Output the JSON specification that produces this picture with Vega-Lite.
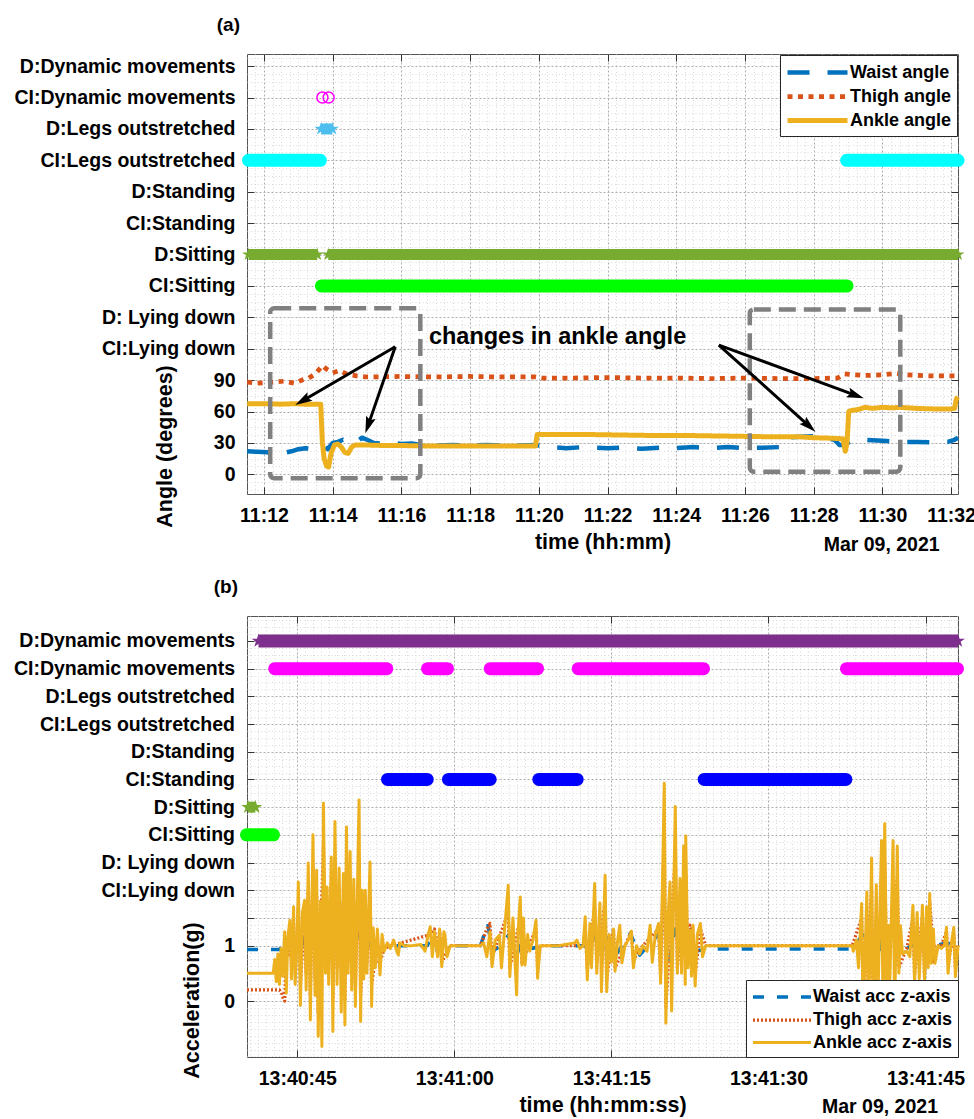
{
"$schema": "https://vega.github.io/schema/vega-lite/v6.json",
"padding": {"left": 12, "top": 15, "right": 0, "bottom": 0},
"spacing": 22,
"config": {
 "font": "Liberation Sans",
 "view": {"stroke": "#555555", "strokeWidth": 1},
 "axis": {"labelFont": "Liberation Sans", "labelFontWeight": "bold", "labelFontSize": 19.5, "labelColor": "#000000", "titleFont": "Liberation Sans", "titleFontWeight": "bold", "titleFontSize": 21.5, "titleColor": "#000000", "tickColor": "#333333", "tickWidth": 1, "domain": false, "labelOverlap": false, "labelFlush": false, "labelLimit": 400},
 "legend": {"labelFont": "Liberation Sans", "labelFontWeight": "bold", "labelFontSize": 18, "labelColor": "#000000"}
},
"datasets": {
 "angA": [
  {"t":11.51,"s":"Waist angle","v":22},{"t":11.8,"s":"Waist angle","v":21.5},{"t":12.1,"s":"Waist angle","v":21},{"t":12.3,"s":"Waist angle","v":19.5},{"t":12.5,"s":"Waist angle","v":20},{"t":12.8,"s":"Waist angle","v":22},{"t":13.0,"s":"Waist angle","v":24},{"t":13.2,"s":"Waist angle","v":25},{"t":13.45,"s":"Waist angle","v":24},{"t":13.6,"s":"Waist angle","v":25},{"t":13.75,"s":"Waist angle","v":27},{"t":13.85,"s":"Waist angle","v":24},{"t":14.0,"s":"Waist angle","v":30},{"t":14.15,"s":"Waist angle","v":31},{"t":14.3,"s":"Waist angle","v":33},{"t":14.5,"s":"Waist angle","v":30},{"t":14.7,"s":"Waist angle","v":31},{"t":14.85,"s":"Waist angle","v":35},{"t":15.0,"s":"Waist angle","v":33},{"t":15.2,"s":"Waist angle","v":30},{"t":15.5,"s":"Waist angle","v":29},{"t":15.8,"s":"Waist angle","v":30},{"t":16.0,"s":"Waist angle","v":29},{"t":16.3,"s":"Waist angle","v":29.5},{"t":16.6,"s":"Waist angle","v":28},{"t":17.0,"s":"Waist angle","v":27.5},{"t":17.5,"s":"Waist angle","v":28},{"t":18.0,"s":"Waist angle","v":27.5},{"t":18.5,"s":"Waist angle","v":28},{"t":19.0,"s":"Waist angle","v":27.5},{"t":19.5,"s":"Waist angle","v":27.5},{"t":19.9,"s":"Waist angle","v":28},{"t":20.1,"s":"Waist angle","v":27},{"t":20.3,"s":"Waist angle","v":26},{"t":20.8,"s":"Waist angle","v":25},{"t":21.3,"s":"Waist angle","v":26},{"t":22.0,"s":"Waist angle","v":25},{"t":22.5,"s":"Waist angle","v":25.5},{"t":23.0,"s":"Waist angle","v":24.5},{"t":23.5,"s":"Waist angle","v":25.5},{"t":24.0,"s":"Waist angle","v":25},{"t":24.5,"s":"Waist angle","v":26},{"t":25.0,"s":"Waist angle","v":25},{"t":25.5,"s":"Waist angle","v":26},{"t":26.0,"s":"Waist angle","v":25},{"t":26.5,"s":"Waist angle","v":25.5},{"t":27.0,"s":"Waist angle","v":26},{"t":27.1,"s":"Waist angle","v":27},{"t":27.2,"s":"Waist angle","v":35},{"t":27.6,"s":"Waist angle","v":36},{"t":28.0,"s":"Waist angle","v":36.5},{"t":28.3,"s":"Waist angle","v":35},{"t":28.6,"s":"Waist angle","v":33},{"t":28.75,"s":"Waist angle","v":28},{"t":28.9,"s":"Waist angle","v":28},{"t":29.1,"s":"Waist angle","v":32},{"t":29.5,"s":"Waist angle","v":33},{"t":30.0,"s":"Waist angle","v":32},{"t":30.5,"s":"Waist angle","v":31},{"t":31.0,"s":"Waist angle","v":31},{"t":31.5,"s":"Waist angle","v":30.5},{"t":31.9,"s":"Waist angle","v":31},{"t":32.1,"s":"Waist angle","v":33},{"t":32.2,"s":"Waist angle","v":35},
  {"t":11.51,"s":"Thigh angle","v":88},{"t":11.8,"s":"Thigh angle","v":87},{"t":12.2,"s":"Thigh angle","v":88},{"t":12.6,"s":"Thigh angle","v":89},{"t":12.9,"s":"Thigh angle","v":87},{"t":13.1,"s":"Thigh angle","v":90},{"t":13.3,"s":"Thigh angle","v":92},{"t":13.5,"s":"Thigh angle","v":96},{"t":13.7,"s":"Thigh angle","v":104},{"t":13.8,"s":"Thigh angle","v":101},{"t":14.0,"s":"Thigh angle","v":97},{"t":14.2,"s":"Thigh angle","v":99},{"t":14.4,"s":"Thigh angle","v":96},{"t":14.7,"s":"Thigh angle","v":94},{"t":15.0,"s":"Thigh angle","v":93},{"t":16.0,"s":"Thigh angle","v":93.5},{"t":17.0,"s":"Thigh angle","v":93},{"t":18.0,"s":"Thigh angle","v":93.5},{"t":19.0,"s":"Thigh angle","v":93},{"t":19.9,"s":"Thigh angle","v":93},{"t":20.1,"s":"Thigh angle","v":92},{"t":21.0,"s":"Thigh angle","v":92},{"t":22.0,"s":"Thigh angle","v":92.5},{"t":23.0,"s":"Thigh angle","v":92},{"t":24.0,"s":"Thigh angle","v":92},{"t":25.0,"s":"Thigh angle","v":91.5},{"t":26.0,"s":"Thigh angle","v":92},{"t":27.0,"s":"Thigh angle","v":91.5},{"t":28.0,"s":"Thigh angle","v":91.5},{"t":28.7,"s":"Thigh angle","v":92},{"t":28.9,"s":"Thigh angle","v":96},{"t":29.2,"s":"Thigh angle","v":95},{"t":29.5,"s":"Thigh angle","v":94.5},{"t":30.0,"s":"Thigh angle","v":95},{"t":30.4,"s":"Thigh angle","v":96.5},{"t":30.7,"s":"Thigh angle","v":95},{"t":31.0,"s":"Thigh angle","v":94.5},{"t":31.5,"s":"Thigh angle","v":94},{"t":32.2,"s":"Thigh angle","v":94},
  {"t":11.51,"s":"Ankle angle","v":67.5},{"t":12.0,"s":"Ankle angle","v":67.5},{"t":12.5,"s":"Ankle angle","v":67},{"t":12.9,"s":"Ankle angle","v":67.5},{"t":13.2,"s":"Ankle angle","v":67},{"t":13.65,"s":"Ankle angle","v":67},{"t":13.7,"s":"Ankle angle","v":30},{"t":13.75,"s":"Ankle angle","v":15},{"t":13.82,"s":"Ankle angle","v":8},{"t":13.88,"s":"Ankle angle","v":7},{"t":13.95,"s":"Ankle angle","v":20},{"t":14.05,"s":"Ankle angle","v":28},{"t":14.15,"s":"Ankle angle","v":29},{"t":14.25,"s":"Ankle angle","v":26},{"t":14.35,"s":"Ankle angle","v":21},{"t":14.45,"s":"Ankle angle","v":20},{"t":14.55,"s":"Ankle angle","v":26},{"t":14.65,"s":"Ankle angle","v":28},{"t":15.0,"s":"Ankle angle","v":28},{"t":15.5,"s":"Ankle angle","v":27.5},{"t":16.0,"s":"Ankle angle","v":27.5},{"t":17.0,"s":"Ankle angle","v":27},{"t":18.0,"s":"Ankle angle","v":27},{"t":19.0,"s":"Ankle angle","v":27},{"t":19.9,"s":"Ankle angle","v":27},{"t":19.95,"s":"Ankle angle","v":38},{"t":20.5,"s":"Ankle angle","v":38},{"t":21.5,"s":"Ankle angle","v":38},{"t":22.5,"s":"Ankle angle","v":37.5},{"t":23.5,"s":"Ankle angle","v":37},{"t":24.5,"s":"Ankle angle","v":37},{"t":25.5,"s":"Ankle angle","v":36.5},{"t":26.5,"s":"Ankle angle","v":36},{"t":27.5,"s":"Ankle angle","v":36},{"t":28.0,"s":"Ankle angle","v":35},{"t":28.5,"s":"Ankle angle","v":34.5},{"t":28.85,"s":"Ankle angle","v":34},{"t":28.92,"s":"Ankle angle","v":22},{"t":28.97,"s":"Ankle angle","v":30},{"t":29.02,"s":"Ankle angle","v":60},{"t":29.1,"s":"Ankle angle","v":61},{"t":29.3,"s":"Ankle angle","v":62},{"t":29.5,"s":"Ankle angle","v":64},{"t":29.7,"s":"Ankle angle","v":63},{"t":30.0,"s":"Ankle angle","v":64},{"t":30.3,"s":"Ankle angle","v":63.5},{"t":30.5,"s":"Ankle angle","v":64},{"t":31.0,"s":"Ankle angle","v":63},{"t":31.5,"s":"Ankle angle","v":62.5},{"t":32.0,"s":"Ankle angle","v":62.5},{"t":32.1,"s":"Ankle angle","v":63},{"t":32.15,"s":"Ankle angle","v":72},{"t":32.2,"s":"Ankle angle","v":74}
 ],
 "barsA": [
  {"act":"CI:Legs outstretched","v":300,"t":11.55,"t2":13.64},
  {"act":"CI:Legs outstretched","v":300,"t":28.96,"t2":32.2},
  {"act":"CI:Sitting","v":180,"t":13.67,"t2":28.97},
  {"act":"D:Sitting","v":210,"t":11.55,"t2":13.55},
  {"act":"D:Sitting","v":210,"t":13.87,"t2":32.2},
  {"act":"D:Legs outstretched","v":330,"t":13.66,"t2":13.99}
 ],
 "starsA": [
  {"act":"D:Sitting","v":210,"t":11.55},{"act":"D:Sitting","v":210,"t":13.55},{"act":"D:Sitting","v":210,"t":13.87},{"act":"D:Sitting","v":210,"t":32.2},
  {"act":"D:Legs outstretched","v":330,"t":13.66},{"act":"D:Legs outstretched","v":330,"t":13.82},{"act":"D:Legs outstretched","v":330,"t":13.99}
 ],
 "circA": [{"act":"CI:Dynamic movements","v":360,"t":13.70},{"act":"CI:Dynamic movements","v":360,"t":13.88}],
 "boxA": [{"t":12.18,"t2":16.55,"v":-3.8,"v2":158.6},{"t":26.14,"t2":30.52,"v":2.5,"v2":157.6}],
 "arrowsA": [
  {"t":15.82,"v":121.9,"t2":13.162,"v2":71.0},
  {"t":15.82,"v":121.9,"t2":15.045,"v2":48.2},
  {"t":25.24,"v":123.5,"t2":29.185,"v2":75.9},
  {"t":25.24,"v":123.5,"t2":27.834,"v2":47.1}
 ],
 "headsA": [
  {"id":1,"t":13.162,"v":71.0},{"id":2,"t":15.045,"v":48.2},{"id":3,"t":29.185,"v":75.9},{"id":4,"t":27.834,"v":47.1}
 ],
 "textA": [{"t":16.8,"v":131.2,"label":"changes in ankle angle"}],
 "dateA": [{"t":31.666,"v":-67.5,"label":"Mar 09, 2021"}],
 "accB": [
  {"t":40.2,"s":"Waist acc z-axis","v":0.93},{"t":43.3,"s":"Waist acc z-axis","v":0.93},{"t":43.5,"s":"Waist acc z-axis","v":0.97},{"t":43.8,"s":"Waist acc z-axis","v":1.05},{"t":44.3,"s":"Waist acc z-axis","v":1.1},{"t":44.8,"s":"Waist acc z-axis","v":0.9},{"t":45.5,"s":"Waist acc z-axis","v":1.15},{"t":46.0,"s":"Waist acc z-axis","v":0.85},{"t":46.5,"s":"Waist acc z-axis","v":1.2},{"t":47.0,"s":"Waist acc z-axis","v":0.8},{"t":47.5,"s":"Waist acc z-axis","v":1.25},{"t":48.0,"s":"Waist acc z-axis","v":0.85},{"t":48.6,"s":"Waist acc z-axis","v":1.2},{"t":49.2,"s":"Waist acc z-axis","v":0.8},{"t":49.7,"s":"Waist acc z-axis","v":1.2},{"t":50.2,"s":"Waist acc z-axis","v":0.85},{"t":50.9,"s":"Waist acc z-axis","v":1.2},{"t":51.5,"s":"Waist acc z-axis","v":0.85},{"t":52.0,"s":"Waist acc z-axis","v":1.1},{"t":52.5,"s":"Waist acc z-axis","v":0.9},{"t":53.3,"s":"Waist acc z-axis","v":1.0},{"t":57.4,"s":"Waist acc z-axis","v":1.0},{"t":57.7,"s":"Waist acc z-axis","v":1.1},{"t":58.4,"s":"Waist acc z-axis","v":0.9},{"t":58.8,"s":"Waist acc z-axis","v":1.0},{"t":62.5,"s":"Waist acc z-axis","v":1.0},{"t":63.2,"s":"Waist acc z-axis","v":1.4},{"t":63.6,"s":"Waist acc z-axis","v":0.9},{"t":64.5,"s":"Waist acc z-axis","v":1.0},{"t":65.2,"s":"Waist acc z-axis","v":1.2},{"t":66.0,"s":"Waist acc z-axis","v":0.85},{"t":66.5,"s":"Waist acc z-axis","v":1.1},{"t":67.5,"s":"Waist acc z-axis","v":0.95},{"t":68.2,"s":"Waist acc z-axis","v":1.0},{"t":72.5,"s":"Waist acc z-axis","v":1.0},{"t":73.4,"s":"Waist acc z-axis","v":1.2},{"t":74.0,"s":"Waist acc z-axis","v":0.8},{"t":74.5,"s":"Waist acc z-axis","v":1.2},{"t":75.3,"s":"Waist acc z-axis","v":0.8},{"t":76.8,"s":"Waist acc z-axis","v":1.22},{"t":77.7,"s":"Waist acc z-axis","v":0.83},{"t":78.5,"s":"Waist acc z-axis","v":1.0},{"t":80.0,"s":"Waist acc z-axis","v":1.3},{"t":80.5,"s":"Waist acc z-axis","v":0.7},{"t":81.1,"s":"Waist acc z-axis","v":1.3},{"t":82.0,"s":"Waist acc z-axis","v":0.7},{"t":82.5,"s":"Waist acc z-axis","v":1.28},{"t":83.0,"s":"Waist acc z-axis","v":0.9},{"t":84.0,"s":"Waist acc z-axis","v":0.94},{"t":98.0,"s":"Waist acc z-axis","v":0.94},{"t":99.0,"s":"Waist acc z-axis","v":1.2},{"t":99.5,"s":"Waist acc z-axis","v":0.8},{"t":100.5,"s":"Waist acc z-axis","v":1.3},{"t":101.0,"s":"Waist acc z-axis","v":0.7},{"t":101.9,"s":"Waist acc z-axis","v":1.3},{"t":102.5,"s":"Waist acc z-axis","v":0.8},{"t":103.2,"s":"Waist acc z-axis","v":0.95},{"t":104.5,"s":"Waist acc z-axis","v":1.1},{"t":105.0,"s":"Waist acc z-axis","v":0.85},{"t":106.0,"s":"Waist acc z-axis","v":1.0},{"t":107.0,"s":"Waist acc z-axis","v":1.05},{"t":108.1,"s":"Waist acc z-axis","v":0.98},
  {"t":40.2,"s":"Thigh acc z-axis","v":0.2},{"t":43.3,"s":"Thigh acc z-axis","v":0.2},{"t":43.5,"s":"Thigh acc z-axis","v":0.15},{"t":43.65,"s":"Thigh acc z-axis","v":0.05},{"t":43.8,"s":"Thigh acc z-axis","v":0.0},{"t":43.9,"s":"Thigh acc z-axis","v":0.6},{"t":44.1,"s":"Thigh acc z-axis","v":1.1},{"t":44.3,"s":"Thigh acc z-axis","v":0.8},{"t":44.6,"s":"Thigh acc z-axis","v":1.3},{"t":44.8,"s":"Thigh acc z-axis","v":0.6},{"t":45.1,"s":"Thigh acc z-axis","v":1.7},{"t":45.3,"s":"Thigh acc z-axis","v":0.3},{"t":45.7,"s":"Thigh acc z-axis","v":1.5},{"t":45.85,"s":"Thigh acc z-axis","v":0.5},{"t":46.05,"s":"Thigh acc z-axis","v":2.0},{"t":46.25,"s":"Thigh acc z-axis","v":0.1},{"t":46.5,"s":"Thigh acc z-axis","v":2.4},{"t":46.7,"s":"Thigh acc z-axis","v":0.4},{"t":46.85,"s":"Thigh acc z-axis","v":1.9},{"t":47.0,"s":"Thigh acc z-axis","v":-0.2},{"t":47.5,"s":"Thigh acc z-axis","v":2.8},{"t":47.7,"s":"Thigh acc z-axis","v":0.7},{"t":48.25,"s":"Thigh acc z-axis","v":2.1},{"t":48.4,"s":"Thigh acc z-axis","v":0.0},{"t":48.6,"s":"Thigh acc z-axis","v":2.5},{"t":48.8,"s":"Thigh acc z-axis","v":0.6},{"t":49.4,"s":"Thigh acc z-axis","v":1.8},{"t":49.55,"s":"Thigh acc z-axis","v":0.0},{"t":49.7,"s":"Thigh acc z-axis","v":2.4},{"t":49.85,"s":"Thigh acc z-axis","v":0.7},{"t":50.4,"s":"Thigh acc z-axis","v":1.8},{"t":50.55,"s":"Thigh acc z-axis","v":0.3},{"t":50.9,"s":"Thigh acc z-axis","v":2.6},{"t":51.05,"s":"Thigh acc z-axis","v":0.1},{"t":51.5,"s":"Thigh acc z-axis","v":1.7},{"t":51.65,"s":"Thigh acc z-axis","v":0.7},{"t":51.95,"s":"Thigh acc z-axis","v":1.9},{"t":52.1,"s":"Thigh acc z-axis","v":0.3},{"t":52.45,"s":"Thigh acc z-axis","v":0.75},{"t":52.9,"s":"Thigh acc z-axis","v":0.7},{"t":53.3,"s":"Thigh acc z-axis","v":0.95},{"t":54.0,"s":"Thigh acc z-axis","v":1.0},{"t":57.7,"s":"Thigh acc z-axis","v":1.2},{"t":58.1,"s":"Thigh acc z-axis","v":1.3},{"t":58.4,"s":"Thigh acc z-axis","v":0.9},{"t":58.6,"s":"Thigh acc z-axis","v":1.25},{"t":58.8,"s":"Thigh acc z-axis","v":0.7},{"t":59.6,"s":"Thigh acc z-axis","v":1.0},{"t":62.5,"s":"Thigh acc z-axis","v":1.0},{"t":63.1,"s":"Thigh acc z-axis","v":1.3},{"t":63.4,"s":"Thigh acc z-axis","v":1.4},{"t":63.6,"s":"Thigh acc z-axis","v":0.8},{"t":65.15,"s":"Thigh acc z-axis","v":1.6},{"t":65.3,"s":"Thigh acc z-axis","v":0.6},{"t":66.3,"s":"Thigh acc z-axis","v":1.5},{"t":66.45,"s":"Thigh acc z-axis","v":0.7},{"t":67.8,"s":"Thigh acc z-axis","v":1.3},{"t":67.95,"s":"Thigh acc z-axis","v":0.6},{"t":68.2,"s":"Thigh acc z-axis","v":1.0},{"t":72.3,"s":"Thigh acc z-axis","v":1.0},{"t":72.5,"s":"Thigh acc z-axis","v":1.3},{"t":72.7,"s":"Thigh acc z-axis","v":0.6},{"t":73.4,"s":"Thigh acc z-axis","v":1.7},{"t":73.6,"s":"Thigh acc z-axis","v":0.7},{"t":74.4,"s":"Thigh acc z-axis","v":1.8},{"t":74.55,"s":"Thigh acc z-axis","v":0.4},{"t":75.2,"s":"Thigh acc z-axis","v":1.3},{"t":75.35,"s":"Thigh acc z-axis","v":0.6},{"t":76.9,"s":"Thigh acc z-axis","v":1.25},{"t":77.1,"s":"Thigh acc z-axis","v":0.75},{"t":78.0,"s":"Thigh acc z-axis","v":1.0},{"t":79.5,"s":"Thigh acc z-axis","v":1.3},{"t":79.7,"s":"Thigh acc z-axis","v":0.5},{"t":80.05,"s":"Thigh acc z-axis","v":2.9},{"t":80.2,"s":"Thigh acc z-axis","v":-0.1},{"t":81.1,"s":"Thigh acc z-axis","v":2.6},{"t":81.3,"s":"Thigh acc z-axis","v":0.6},{"t":82.1,"s":"Thigh acc z-axis","v":2.3},{"t":82.3,"s":"Thigh acc z-axis","v":0.7},{"t":82.5,"s":"Thigh acc z-axis","v":1.37},{"t":82.8,"s":"Thigh acc z-axis","v":1.2},{"t":83.0,"s":"Thigh acc z-axis","v":0.5},{"t":83.5,"s":"Thigh acc z-axis","v":1.3},{"t":84.0,"s":"Thigh acc z-axis","v":1.0},{"t":98.0,"s":"Thigh acc z-axis","v":1.0},{"t":98.9,"s":"Thigh acc z-axis","v":1.5},{"t":99.05,"s":"Thigh acc z-axis","v":0.0},{"t":99.85,"s":"Thigh acc z-axis","v":2.0},{"t":100.0,"s":"Thigh acc z-axis","v":-0.2},{"t":101.1,"s":"Thigh acc z-axis","v":2.5},{"t":101.3,"s":"Thigh acc z-axis","v":0.4},{"t":102.3,"s":"Thigh acc z-axis","v":2.2},{"t":102.45,"s":"Thigh acc z-axis","v":0.6},{"t":103.2,"s":"Thigh acc z-axis","v":0.95},{"t":103.8,"s":"Thigh acc z-axis","v":1.5},{"t":103.95,"s":"Thigh acc z-axis","v":0.5},{"t":104.7,"s":"Thigh acc z-axis","v":1.5},{"t":104.9,"s":"Thigh acc z-axis","v":0.5},{"t":105.4,"s":"Thigh acc z-axis","v":1.79},{"t":105.55,"s":"Thigh acc z-axis","v":1.43},{"t":105.75,"s":"Thigh acc z-axis","v":0.68},{"t":105.9,"s":"Thigh acc z-axis","v":1.0},{"t":106.5,"s":"Thigh acc z-axis","v":1.0},{"t":107.0,"s":"Thigh acc z-axis","v":1.25},{"t":107.15,"s":"Thigh acc z-axis","v":0.7},{"t":107.7,"s":"Thigh acc z-axis","v":1.2},{"t":107.85,"s":"Thigh acc z-axis","v":0.6},{"t":108.1,"s":"Thigh acc z-axis","v":1.0},
  {"t":40.2,"s":"Ankle acc z-axis","v":0.5},{"t":42.7,"s":"Ankle acc z-axis","v":0.5},{"t":42.85,"s":"Ankle acc z-axis","v":0.75},{"t":43.0,"s":"Ankle acc z-axis","v":0.35},{"t":43.15,"s":"Ankle acc z-axis","v":0.85},{"t":43.3,"s":"Ankle acc z-axis","v":0.3},{"t":43.45,"s":"Ankle acc z-axis","v":0.95},{"t":43.6,"s":"Ankle acc z-axis","v":0.45},{"t":43.8,"s":"Ankle acc z-axis","v":1.25},{"t":43.95,"s":"Ankle acc z-axis","v":0.14},{"t":44.1,"s":"Ankle acc z-axis","v":1.15},{"t":44.3,"s":"Ankle acc z-axis","v":1.46},{"t":44.45,"s":"Ankle acc z-axis","v":0.4},{"t":44.65,"s":"Ankle acc z-axis","v":1.7},{"t":44.8,"s":"Ankle acc z-axis","v":0.3},{"t":45.0,"s":"Ankle acc z-axis","v":1.2},{"t":45.1,"s":"Ankle acc z-axis","v":2.15},{"t":45.3,"s":"Ankle acc z-axis","v":-0.08},{"t":45.5,"s":"Ankle acc z-axis","v":1.6},{"t":45.7,"s":"Ankle acc z-axis","v":1.82},{"t":45.85,"s":"Ankle acc z-axis","v":0.2},{"t":46.05,"s":"Ankle acc z-axis","v":2.49},{"t":46.25,"s":"Ankle acc z-axis","v":-0.34},{"t":46.5,"s":"Ankle acc z-axis","v":3.0},{"t":46.7,"s":"Ankle acc z-axis","v":0.1},{"t":46.85,"s":"Ankle acc z-axis","v":2.36},{"t":47.0,"s":"Ankle acc z-axis","v":-0.64},{"t":47.2,"s":"Ankle acc z-axis","v":1.8},{"t":47.35,"s":"Ankle acc z-axis","v":-0.82},{"t":47.5,"s":"Ankle acc z-axis","v":3.57},{"t":47.7,"s":"Ankle acc z-axis","v":0.5},{"t":47.85,"s":"Ankle acc z-axis","v":2.06},{"t":48.0,"s":"Ankle acc z-axis","v":0.3},{"t":48.25,"s":"Ankle acc z-axis","v":2.6},{"t":48.4,"s":"Ankle acc z-axis","v":-0.55},{"t":48.6,"s":"Ankle acc z-axis","v":3.24},{"t":48.8,"s":"Ankle acc z-axis","v":0.3},{"t":49.0,"s":"Ankle acc z-axis","v":2.4},{"t":49.2,"s":"Ankle acc z-axis","v":-0.2},{"t":49.4,"s":"Ankle acc z-axis","v":2.3},{"t":49.55,"s":"Ankle acc z-axis","v":-0.43},{"t":49.7,"s":"Ankle acc z-axis","v":3.14},{"t":49.85,"s":"Ankle acc z-axis","v":0.5},{"t":50.05,"s":"Ankle acc z-axis","v":2.7},{"t":50.2,"s":"Ankle acc z-axis","v":0.2},{"t":50.4,"s":"Ankle acc z-axis","v":2.2},{"t":50.55,"s":"Ankle acc z-axis","v":-0.1},{"t":50.9,"s":"Ankle acc z-axis","v":3.63},{"t":51.05,"s":"Ankle acc z-axis","v":-0.37},{"t":51.2,"s":"Ankle acc z-axis","v":2.0},{"t":51.35,"s":"Ankle acc z-axis","v":0.4},{"t":51.5,"s":"Ankle acc z-axis","v":2.0},{"t":51.65,"s":"Ankle acc z-axis","v":0.5},{"t":51.95,"s":"Ankle acc z-axis","v":2.51},{"t":52.1,"s":"Ankle acc z-axis","v":-0.1},{"t":52.25,"s":"Ankle acc z-axis","v":1.32},{"t":52.45,"s":"Ankle acc z-axis","v":0.6},{"t":52.65,"s":"Ankle acc z-axis","v":1.3},{"t":52.9,"s":"Ankle acc z-axis","v":0.47},{"t":53.1,"s":"Ankle acc z-axis","v":1.2},{"t":53.3,"s":"Ankle acc z-axis","v":0.9},{"t":53.6,"s":"Ankle acc z-axis","v":1.05},{"t":53.9,"s":"Ankle acc z-axis","v":0.95},{"t":54.2,"s":"Ankle acc z-axis","v":1.1},{"t":54.5,"s":"Ankle acc z-axis","v":0.9},{"t":54.65,"s":"Ankle acc z-axis","v":0.83},{"t":54.8,"s":"Ankle acc z-axis","v":1.05},{"t":55.2,"s":"Ankle acc z-axis","v":1.0},{"t":56.0,"s":"Ankle acc z-axis","v":1.0},{"t":56.8,"s":"Ankle acc z-axis","v":1.02},{"t":57.2,"s":"Ankle acc z-axis","v":0.9},{"t":57.5,"s":"Ankle acc z-axis","v":1.2},{"t":57.7,"s":"Ankle acc z-axis","v":1.34},{"t":57.9,"s":"Ankle acc z-axis","v":0.8},{"t":58.1,"s":"Ankle acc z-axis","v":1.25},{"t":58.4,"s":"Ankle acc z-axis","v":0.8},{"t":58.6,"s":"Ankle acc z-axis","v":1.3},{"t":58.8,"s":"Ankle acc z-axis","v":0.62},{"t":59.0,"s":"Ankle acc z-axis","v":1.25},{"t":59.1,"s":"Ankle acc z-axis","v":1.2},{"t":59.3,"s":"Ankle acc z-axis","v":0.8},{"t":59.6,"s":"Ankle acc z-axis","v":1.0},{"t":62.5,"s":"Ankle acc z-axis","v":1.0},{"t":62.8,"s":"Ankle acc z-axis","v":1.05},{"t":63.1,"s":"Ankle acc z-axis","v":0.8},{"t":63.4,"s":"Ankle acc z-axis","v":1.25},{"t":63.6,"s":"Ankle acc z-axis","v":0.62},{"t":63.9,"s":"Ankle acc z-axis","v":1.1},{"t":64.3,"s":"Ankle acc z-axis","v":1.19},{"t":64.5,"s":"Ankle acc z-axis","v":0.6},{"t":64.8,"s":"Ankle acc z-axis","v":1.3},{"t":65.15,"s":"Ankle acc z-axis","v":2.09},{"t":65.3,"s":"Ankle acc z-axis","v":0.44},{"t":65.6,"s":"Ankle acc z-axis","v":1.5},{"t":65.8,"s":"Ankle acc z-axis","v":0.7},{"t":65.95,"s":"Ankle acc z-axis","v":0.11},{"t":66.1,"s":"Ankle acc z-axis","v":1.3},{"t":66.3,"s":"Ankle acc z-axis","v":1.88},{"t":66.45,"s":"Ankle acc z-axis","v":0.65},{"t":66.6,"s":"Ankle acc z-axis","v":1.5},{"t":66.75,"s":"Ankle acc z-axis","v":0.65},{"t":67.0,"s":"Ankle acc z-axis","v":1.2},{"t":67.2,"s":"Ankle acc z-axis","v":0.9},{"t":67.5,"s":"Ankle acc z-axis","v":1.1},{"t":67.8,"s":"Ankle acc z-axis","v":1.46},{"t":67.95,"s":"Ankle acc z-axis","v":0.41},{"t":68.2,"s":"Ankle acc z-axis","v":1.0},{"t":70.0,"s":"Ankle acc z-axis","v":1.0},{"t":71.5,"s":"Ankle acc z-axis","v":1.05},{"t":71.7,"s":"Ankle acc z-axis","v":1.1},{"t":72.0,"s":"Ankle acc z-axis","v":0.95},{"t":72.3,"s":"Ankle acc z-axis","v":1.0},{"t":72.5,"s":"Ankle acc z-axis","v":1.52},{"t":72.7,"s":"Ankle acc z-axis","v":0.38},{"t":72.95,"s":"Ankle acc z-axis","v":1.4},{"t":73.1,"s":"Ankle acc z-axis","v":0.6},{"t":73.4,"s":"Ankle acc z-axis","v":2.12},{"t":73.6,"s":"Ankle acc z-axis","v":0.5},{"t":73.9,"s":"Ankle acc z-axis","v":1.77},{"t":74.05,"s":"Ankle acc z-axis","v":0.17},{"t":74.4,"s":"Ankle acc z-axis","v":2.27},{"t":74.55,"s":"Ankle acc z-axis","v":0.17},{"t":74.8,"s":"Ankle acc z-axis","v":1.2},{"t":75.0,"s":"Ankle acc z-axis","v":0.7},{"t":75.2,"s":"Ankle acc z-axis","v":1.3},{"t":75.35,"s":"Ankle acc z-axis","v":0.54},{"t":75.6,"s":"Ankle acc z-axis","v":1.1},{"t":75.8,"s":"Ankle acc z-axis","v":1.37},{"t":76.0,"s":"Ankle acc z-axis","v":0.69},{"t":76.3,"s":"Ankle acc z-axis","v":1.0},{"t":76.6,"s":"Ankle acc z-axis","v":1.1},{"t":76.9,"s":"Ankle acc z-axis","v":1.26},{"t":77.1,"s":"Ankle acc z-axis","v":0.6},{"t":77.4,"s":"Ankle acc z-axis","v":1.0},{"t":77.7,"s":"Ankle acc z-axis","v":0.85},{"t":78.0,"s":"Ankle acc z-axis","v":1.0},{"t":78.4,"s":"Ankle acc z-axis","v":0.9},{"t":78.7,"s":"Ankle acc z-axis","v":1.37},{"t":78.9,"s":"Ankle acc z-axis","v":0.7},{"t":79.2,"s":"Ankle acc z-axis","v":1.2},{"t":79.5,"s":"Ankle acc z-axis","v":1.4},{"t":79.7,"s":"Ankle acc z-axis","v":0.32},{"t":80.05,"s":"Ankle acc z-axis","v":3.93},{"t":80.2,"s":"Ankle acc z-axis","v":-0.4},{"t":80.4,"s":"Ankle acc z-axis","v":1.5},{"t":80.6,"s":"Ankle acc z-axis","v":2.15},{"t":80.75,"s":"Ankle acc z-axis","v":-0.18},{"t":81.1,"s":"Ankle acc z-axis","v":3.51},{"t":81.3,"s":"Ankle acc z-axis","v":0.5},{"t":81.55,"s":"Ankle acc z-axis","v":2.21},{"t":81.7,"s":"Ankle acc z-axis","v":0.5},{"t":81.9,"s":"Ankle acc z-axis","v":2.8},{"t":82.05,"s":"Ankle acc z-axis","v":0.3},{"t":82.1,"s":"Ankle acc z-axis","v":2.98},{"t":82.3,"s":"Ankle acc z-axis","v":0.6},{"t":82.5,"s":"Ankle acc z-axis","v":1.28},{"t":82.65,"s":"Ankle acc z-axis","v":0.45},{"t":82.8,"s":"Ankle acc z-axis","v":1.37},{"t":83.0,"s":"Ankle acc z-axis","v":0.27},{"t":83.2,"s":"Ankle acc z-axis","v":1.2},{"t":83.5,"s":"Ankle acc z-axis","v":1.4},{"t":83.7,"s":"Ankle acc z-axis","v":0.8},{"t":84.0,"s":"Ankle acc z-axis","v":1.0},{"t":98.0,"s":"Ankle acc z-axis","v":1.0},{"t":98.1,"s":"Ankle acc z-axis","v":0.9},{"t":98.4,"s":"Ankle acc z-axis","v":1.1},{"t":98.6,"s":"Ankle acc z-axis","v":0.6},{"t":98.9,"s":"Ankle acc z-axis","v":1.76},{"t":99.05,"s":"Ankle acc z-axis","v":-0.3},{"t":99.4,"s":"Ankle acc z-axis","v":1.97},{"t":99.55,"s":"Ankle acc z-axis","v":-0.5},{"t":99.85,"s":"Ankle acc z-axis","v":2.58},{"t":100.0,"s":"Ankle acc z-axis","v":-0.6},{"t":100.3,"s":"Ankle acc z-axis","v":2.1},{"t":100.45,"s":"Ankle acc z-axis","v":0.0},{"t":100.8,"s":"Ankle acc z-axis","v":2.9},{"t":100.95,"s":"Ankle acc z-axis","v":-0.6},{"t":101.1,"s":"Ankle acc z-axis","v":3.2},{"t":101.3,"s":"Ankle acc z-axis","v":0.2},{"t":101.45,"s":"Ankle acc z-axis","v":1.37},{"t":101.6,"s":"Ankle acc z-axis","v":0.4},{"t":101.9,"s":"Ankle acc z-axis","v":2.9},{"t":102.05,"s":"Ankle acc z-axis","v":-0.3},{"t":102.3,"s":"Ankle acc z-axis","v":2.8},{"t":102.45,"s":"Ankle acc z-axis","v":0.5},{"t":102.6,"s":"Ankle acc z-axis","v":1.36},{"t":102.8,"s":"Ankle acc z-axis","v":0.85},{"t":103.2,"s":"Ankle acc z-axis","v":0.9},{"t":103.5,"s":"Ankle acc z-axis","v":0.8},{"t":103.8,"s":"Ankle acc z-axis","v":1.73},{"t":103.95,"s":"Ankle acc z-axis","v":0.3},{"t":104.2,"s":"Ankle acc z-axis","v":1.6},{"t":104.4,"s":"Ankle acc z-axis","v":0.4},{"t":104.7,"s":"Ankle acc z-axis","v":1.73},{"t":104.9,"s":"Ankle acc z-axis","v":0.35},{"t":105.1,"s":"Ankle acc z-axis","v":1.7},{"t":105.25,"s":"Ankle acc z-axis","v":0.6},{"t":105.4,"s":"Ankle acc z-axis","v":1.94},{"t":105.55,"s":"Ankle acc z-axis","v":0.68},{"t":105.75,"s":"Ankle acc z-axis","v":1.3},{"t":105.9,"s":"Ankle acc z-axis","v":0.68},{"t":106.2,"s":"Ankle acc z-axis","v":1.0},{"t":106.5,"s":"Ankle acc z-axis","v":0.95},{"t":106.8,"s":"Ankle acc z-axis","v":1.0},{"t":107.0,"s":"Ankle acc z-axis","v":1.33},{"t":107.15,"s":"Ankle acc z-axis","v":0.5},{"t":107.35,"s":"Ankle acc z-axis","v":0.9},{"t":107.7,"s":"Ankle acc z-axis","v":1.33},{"t":107.85,"s":"Ankle acc z-axis","v":0.44},{"t":108.1,"s":"Ankle acc z-axis","v":1.0}
 ],
 "barsB": [
  {"act":"D:Dynamic movements","v":6.5,"t":41.3,"t2":108.1},
  {"act":"CI:Dynamic movements","v":6,"t":42.85,"t2":53.55},
  {"act":"CI:Dynamic movements","v":6,"t":57.44,"t2":59.35},
  {"act":"CI:Dynamic movements","v":6,"t":63.43,"t2":67.95},
  {"act":"CI:Dynamic movements","v":6,"t":71.83,"t2":83.8},
  {"act":"CI:Dynamic movements","v":6,"t":97.45,"t2":108.05},
  {"act":"CI:Standing","v":4,"t":53.62,"t2":57.41},
  {"act":"CI:Standing","v":4,"t":59.44,"t2":63.42},
  {"act":"CI:Standing","v":4,"t":68.07,"t2":71.73},
  {"act":"CI:Standing","v":4,"t":83.86,"t2":97.39},
  {"act":"D:Sitting","v":3.5,"t":40.3,"t2":41.0},
  {"act":"CI:Sitting","v":3,"t":40.15,"t2":42.73}
 ],
 "starsB": [
  {"act":"D:Dynamic movements","v":6.5,"t":41.3},{"act":"D:Dynamic movements","v":6.5,"t":108.1},
  {"act":"D:Sitting","v":3.5,"t":40.3},{"act":"D:Sitting","v":3.5,"t":41.0}
 ],
 "dateB": [{"t":106.19,"v":-1.91,"label":"Mar 09, 2021"}]
},
"resolve": {"scale": {"color": "independent", "strokeDash": "independent", "strokeWidth": "independent"}, "legend": {"color": "independent", "strokeDash": "independent"}},
"vconcat": [
 {
  "width": 711, "height": 440,
  "title": {"text": "(a)", "anchor": "start", "frame": "group", "align": "right", "dx": -7, "offset": 13, "fontSize": 19, "font": "Liberation Sans", "fontWeight": "bold", "color": "#000000"},
  "resolve": {"axis": {"x": "independent", "y": "independent"}},
  "layer": [
   {
    "encoding": {
     "x": {"field": "t", "type": "quantitative", "scale": {"domain": [11.505, 32.2], "nice": false, "zero": false},
      "axis": {"orient": "bottom", "title": "time (hh:mm)", "titlePadding": 7, "grid": true, "tickSize": -7, "labelPadding": 19,
       "values": [11.75,12,12.25,12.5,12.75,13,13.25,13.5,13.75,14,14.25,14.5,14.75,15,15.25,15.5,15.75,16,16.25,16.5,16.75,17,17.25,17.5,17.75,18,18.25,18.5,18.75,19,19.25,19.5,19.75,20,20.25,20.5,20.75,21,21.25,21.5,21.75,22,22.25,22.5,22.75,23,23.25,23.5,23.75,24,24.25,24.5,24.75,25,25.25,25.5,25.75,26,26.25,26.5,26.75,27,27.25,27.5,27.75,28,28.25,28.5,28.75,29,29.25,29.5,29.75,30,30.25,30.5,30.75,31,31.25,31.5,31.75,32],
       "labelExpr": "abs(datum.value % 2) < 0.01 ? '11:' + format(datum.value, '02d') : ''",
       "tickOpacity": {"condition": {"test": "abs(datum.value % 2) < 0.01", "value": 1}, "value": 0},
       "gridColor": {"condition": {"test": "abs(datum.value % 2) < 0.01", "value": "#adadad"}, "value": "#dadada"},
       "gridDash": {"condition": {"test": "abs(datum.value % 2) < 0.01", "value": [2, 2]}, "value": [1, 2.5]}}},
     "y": {"field": "v", "type": "quantitative", "scale": {"domain": [-18.8, 401.6], "nice": false, "zero": false},
      "axis": {"orient": "left", "title": "Angle (degrees)", "titleX": -82, "titleY": 392, "titleAngle": 270, "titleAlign": "center", "titleBaseline": "middle", "grid": true, "tickSize": -7, "labelPadding": 19,
       "values": [-15,-7.5,0,7.5,15,22.5,30,37.5,45,52.5,60,67.5,75,82.5,90,97.5,105,112.5,120,127.5,135,142.5,150,157.5,165,172.5,180,187.5,195,202.5,210,217.5,225,232.5,240,247.5,255,262.5,270,277.5,285,292.5,300,307.5,315,322.5,330,337.5,345,352.5,360,367.5,375,382.5,390,397.5],
       "labelExpr": "(datum.value >= 0 && abs(datum.value % 30) < 0.01) ? ['0','30','60','90','CI:Lying down','D: Lying down','CI:Sitting','D:Sitting','CI:Standing','D:Standing','CI:Legs outstretched','D:Legs outstretched','CI:Dynamic movements','D:Dynamic movements'][round(datum.value / 30)] : ''",
       "tickOpacity": {"condition": {"test": "datum.value >= 0 && abs(datum.value % 30) < 0.01", "value": 1}, "value": 0},
       "gridColor": {"condition": {"test": "datum.value >= 0 && abs(datum.value % 30) < 0.01", "value": "#adadad"}, "value": "#dadada"},
       "gridDash": {"condition": {"test": "datum.value >= 0 && abs(datum.value % 30) < 0.01", "value": [2, 2]}, "value": [1, 2.5]}}}
    },
    "layer": [
     {"data": {"name": "angA"}, "mark": {"type": "line", "strokeCap": "butt", "strokeJoin": "round"},
      "encoding": {
       "color": {"field": "s", "type": "nominal", "scale": {"domain": ["Waist angle", "Thigh angle", "Ankle angle"], "range": ["#0072BD", "#D95319", "#EDB120"]},
        "legend": {"orient": "top-right", "offset": 1, "title": null, "fillColor": "#ffffff", "strokeColor": "#262626", "padding": 5, "symbolType": "M-3,0H3", "symbolSize": 400, "symbolOffset": 20, "symbolFillColor": "transparent", "symbolStrokeWidth": 4, "labelOffset": 20, "rowPadding": 2}},
       "strokeDash": {"field": "s", "type": "nominal", "scale": {"domain": ["Waist angle", "Thigh angle", "Ankle angle"], "range": [[22, 18], [5, 5.5], [1, 0]]},
        "legend": {"orient": "top-right", "offset": 1, "title": null, "fillColor": "#ffffff", "strokeColor": "#262626", "padding": 5, "symbolType": "M-3,0H3", "symbolSize": 400, "symbolOffset": 20, "symbolFillColor": "transparent", "symbolStrokeWidth": 4, "labelOffset": 20, "rowPadding": 2}},
       "strokeWidth": {"field": "s", "type": "nominal", "scale": {"domain": ["Waist angle", "Thigh angle", "Ankle angle"], "range": [4.5, 5, 3.5]}, "legend": null}
      }},
     {"data": {"name": "barsA"}, "transform": [{"filter": "datum.act == 'CI:Legs outstretched'"}], "mark": {"type": "rule", "color": "#00FFFF", "strokeWidth": 13, "strokeCap": "round"}, "encoding": {"x2": {"field": "t2"}}},
     {"data": {"name": "barsA"}, "transform": [{"filter": "datum.act == 'CI:Sitting'"}], "mark": {"type": "rule", "color": "#00FF00", "strokeWidth": 13, "strokeCap": "round"}, "encoding": {"x2": {"field": "t2"}}},
     {"data": {"name": "barsA"}, "transform": [{"filter": "datum.act == 'D:Sitting'"}], "mark": {"type": "rule", "color": "#77AC30", "strokeWidth": 11, "strokeCap": "butt"}, "encoding": {"x2": {"field": "t2"}}},
     {"data": {"name": "barsA"}, "transform": [{"filter": "datum.act == 'D:Legs outstretched'"}], "mark": {"type": "rule", "color": "#4DBEEE", "strokeWidth": 11, "strokeCap": "butt"}, "encoding": {"x2": {"field": "t2"}}},
     {"data": {"name": "starsA"}, "transform": [{"filter": "datum.act == 'D:Sitting'"}], "mark": {"type": "point", "shape": "M0,-1L0.2245,-0.309L0.951,-0.309L0.363,0.118L0.588,0.809L0,0.382L-0.588,0.809L-0.363,0.118L-0.951,-0.309L-0.2245,-0.309Z", "filled": true, "color": "#77AC30", "opacity": 1, "size": 190}},
     {"data": {"name": "starsA"}, "transform": [{"filter": "datum.act == 'D:Legs outstretched'"}], "mark": {"type": "point", "shape": "M0,-1L0.2245,-0.309L0.951,-0.309L0.363,0.118L0.588,0.809L0,0.382L-0.588,0.809L-0.363,0.118L-0.951,-0.309L-0.2245,-0.309Z", "filled": true, "color": "#4DBEEE", "opacity": 1, "size": 190}},
     {"data": {"name": "circA"}, "mark": {"type": "point", "shape": "circle", "filled": false, "color": "#FF00FF", "strokeWidth": 1.5, "opacity": 1, "size": 121}},
     {"data": {"name": "boxA"}, "mark": {"type": "rect", "fillOpacity": 0, "stroke": "#808080", "strokeWidth": 4.5, "strokeDash": [17, 8], "cornerRadius": 4}, "encoding": {"x2": {"field": "t2"}, "y2": {"field": "v2"}}},
     {"data": {"name": "arrowsA"}, "mark": {"type": "rule", "color": "#000000", "strokeWidth": 3}, "encoding": {"x2": {"field": "t2"}, "y2": {"field": "v2"}}},
     {"data": {"name": "headsA"}, "transform": [{"filter": "datum.id == 1"}], "mark": {"type": "point", "shape": "M0,-1L0.5,0.7L0,0.4L-0.5,0.7Z", "filled": true, "color": "#000000", "opacity": 1, "size": 400, "angle": 239.8}},
     {"data": {"name": "headsA"}, "transform": [{"filter": "datum.id == 2"}], "mark": {"type": "point", "shape": "M0,-1L0.5,0.7L0,0.4L-0.5,0.7Z", "filled": true, "color": "#000000", "opacity": 1, "size": 400, "angle": 199.1}},
     {"data": {"name": "headsA"}, "transform": [{"filter": "datum.id == 3"}], "mark": {"type": "point", "shape": "M0,-1L0.5,0.7L0,0.4L-0.5,0.7Z", "filled": true, "color": "#000000", "opacity": 1, "size": 400, "angle": 110.2}},
     {"data": {"name": "headsA"}, "transform": [{"filter": "datum.id == 4"}], "mark": {"type": "point", "shape": "M0,-1L0.5,0.7L0,0.4L-0.5,0.7Z", "filled": true, "color": "#000000", "opacity": 1, "size": 400, "angle": 131.9}},
     {"data": {"name": "textA"}, "mark": {"type": "text", "font": "Liberation Sans", "fontWeight": "bold", "fontSize": 23.5, "align": "left", "baseline": "middle", "color": "#000000"}, "encoding": {"text": {"field": "label"}}},
     {"data": {"name": "dateA"}, "mark": {"type": "text", "font": "Liberation Sans", "fontWeight": "bold", "fontSize": 19.5, "align": "right", "baseline": "middle", "color": "#000000"}, "encoding": {"text": {"field": "label"}}}
    ]
   },
   {
    "data": {"name": "circA"},
    "mark": {"type": "point", "opacity": 0},
    "encoding": {
     "x": {"field": "t", "type": "quantitative", "scale": {"domain": [11.505, 32.2], "nice": false, "zero": false},
      "axis": {"orient": "top", "title": null, "labels": false, "grid": false, "tickSize": -7, "values": [12,14,16,18,20,22,24,26,28,30,32]}},
     "y": {"field": "v", "type": "quantitative", "scale": {"domain": [-18.8, 401.6], "nice": false, "zero": false},
      "axis": {"orient": "right", "title": null, "labels": false, "grid": false, "tickSize": -7, "values": [0,30,60,90,120,150,180,210,240,270,300,330,360,390]}}
    }
   }
  ]
 },
 {
  "width": 711, "height": 441,
  "title": {"text": "(b)", "anchor": "start", "frame": "group", "align": "right", "dx": -9, "offset": 13, "fontSize": 19, "font": "Liberation Sans", "fontWeight": "bold", "color": "#000000"},
  "resolve": {"axis": {"x": "independent", "y": "independent"}},
  "layer": [
   {
    "encoding": {
     "x": {"field": "t", "type": "quantitative", "scale": {"domain": [40.2, 108.1], "nice": false, "zero": false},
      "axis": {"orient": "bottom", "title": "time (hh:mm:ss)", "titlePadding": 7, "grid": true, "tickSize": -7, "labelPadding": 19,
       "values": [40.5,41.25,42,42.75,43.5,44.25,45,45.75,46.5,47.25,48,48.75,49.5,50.25,51,51.75,52.5,53.25,54,54.75,55.5,56.25,57,57.75,58.5,59.25,60,60.75,61.5,62.25,63,63.75,64.5,65.25,66,66.75,67.5,68.25,69,69.75,70.5,71.25,72,72.75,73.5,74.25,75,75.75,76.5,77.25,78,78.75,79.5,80.25,81,81.75,82.5,83.25,84,84.75,85.5,86.25,87,87.75,88.5,89.25,90,90.75,91.5,92.25,93,93.75,94.5,95.25,96,96.75,97.5,98.25,99,99.75,100.5,101.25,102,102.75,103.5,104.25,105,105.75,106.5,107.25,108],
       "labelExpr": "abs(datum.value % 15) < 0.01 ? (datum.value < 60 ? '13:40:' + format(datum.value, '02d') : '13:41:' + format(datum.value - 60, '02d')) : ''",
       "tickOpacity": {"condition": {"test": "abs(datum.value % 15) < 0.01", "value": 1}, "value": 0},
       "gridColor": {"condition": {"test": "abs(datum.value % 15) < 0.01", "value": "#adadad"}, "value": "#dadada"},
       "gridDash": {"condition": {"test": "abs(datum.value % 15) < 0.01", "value": [2, 2]}, "value": [1, 2.5]}}},
     "y": {"field": "v", "type": "quantitative", "scale": {"domain": [-1.01, 6.95], "nice": false, "zero": false},
      "axis": {"orient": "left", "title": "Acceleration(g)", "titleX": -55, "titleY": 384, "titleAngle": 270, "titleAlign": "center", "titleBaseline": "middle", "grid": true, "tickSize": -7, "labelPadding": 19.5,
       "values": [-1,-0.875,-0.75,-0.625,-0.5,-0.375,-0.25,-0.125,0,0.125,0.25,0.375,0.5,0.625,0.75,0.875,1,1.125,1.25,1.375,1.5,1.625,1.75,1.875,2,2.125,2.25,2.375,2.5,2.625,2.75,2.875,3,3.125,3.25,3.375,3.5,3.625,3.75,3.875,4,4.125,4.25,4.375,4.5,4.625,4.75,4.875,5,5.125,5.25,5.375,5.5,5.625,5.75,5.875,6,6.125,6.25,6.375,6.5,6.625,6.75,6.875],
       "labelExpr": "(datum.value >= 0 && abs(datum.value % 0.5) < 0.001) ? ['0','','1','','CI:Lying down','D: Lying down','CI:Sitting','D:Sitting','CI:Standing','D:Standing','CI:Legs outstretched','D:Legs outstretched','CI:Dynamic movements','D:Dynamic movements'][round(datum.value * 2)] : ''",
       "tickOpacity": {"condition": {"test": "datum.value >= 0 && datum.value != 0.5 && abs(datum.value % 0.5) < 0.001", "value": 1}, "value": 0},
       "gridColor": {"condition": {"test": "datum.value >= 0 && datum.value != 0.5 && abs(datum.value % 0.5) < 0.001", "value": "#adadad"}, "value": "#dadada"},
       "gridDash": {"condition": {"test": "datum.value >= 0 && datum.value != 0.5 && abs(datum.value % 0.5) < 0.001", "value": [2, 2]}, "value": [1, 2.5]}}}
    },
    "layer": [
     {"data": {"name": "accB"}, "mark": {"type": "line", "strokeCap": "butt", "strokeJoin": "round"},
      "encoding": {
       "color": {"field": "s", "type": "nominal", "scale": {"domain": ["Waist acc z-axis", "Thigh acc z-axis", "Ankle acc z-axis"], "range": ["#0072BD", "#D95319", "#EDB120"]},
        "legend": {"orient": "bottom-right", "offset": 0, "title": null, "fillColor": "#ffffff", "strokeColor": "#262626", "padding": 5, "symbolType": "M-2.9,0H2.9", "symbolSize": 400, "symbolOffset": 19, "symbolFillColor": "transparent", "symbolStrokeWidth": 4, "labelOffset": 19, "rowPadding": 2}},
       "strokeDash": {"field": "s", "type": "nominal", "scale": {"domain": ["Waist acc z-axis", "Thigh acc z-axis", "Ankle acc z-axis"], "range": [[11, 13], [2, 2], [1, 0]]},
        "legend": {"orient": "bottom-right", "offset": 0, "title": null, "fillColor": "#ffffff", "strokeColor": "#262626", "padding": 5, "symbolType": "M-2.9,0H2.9", "symbolSize": 400, "symbolOffset": 19, "symbolFillColor": "transparent", "symbolStrokeWidth": 4, "labelOffset": 19, "rowPadding": 2}},
       "strokeWidth": {"field": "s", "type": "nominal", "scale": {"domain": ["Waist acc z-axis", "Thigh acc z-axis", "Ankle acc z-axis"], "range": [3.5, 3, 5]}, "legend": null}
      }},
     {"data": {"name": "barsB"}, "transform": [{"filter": "datum.act == 'D:Dynamic movements'"}], "mark": {"type": "rule", "color": "#7E2F8E", "strokeWidth": 13, "strokeCap": "butt"}, "encoding": {"x2": {"field": "t2"}}},
     {"data": {"name": "barsB"}, "transform": [{"filter": "datum.act == 'CI:Dynamic movements'"}], "mark": {"type": "rule", "color": "#FF00FF", "strokeWidth": 13, "strokeCap": "round"}, "encoding": {"x2": {"field": "t2"}}},
     {"data": {"name": "barsB"}, "transform": [{"filter": "datum.act == 'CI:Standing'"}], "mark": {"type": "rule", "color": "#0000FF", "strokeWidth": 13, "strokeCap": "round"}, "encoding": {"x2": {"field": "t2"}}},
     {"data": {"name": "barsB"}, "transform": [{"filter": "datum.act == 'D:Sitting'"}], "mark": {"type": "rule", "color": "#77AC30", "strokeWidth": 11, "strokeCap": "butt"}, "encoding": {"x2": {"field": "t2"}}},
     {"data": {"name": "barsB"}, "transform": [{"filter": "datum.act == 'CI:Sitting'"}], "mark": {"type": "rule", "color": "#00FF00", "strokeWidth": 13, "strokeCap": "round"}, "encoding": {"x2": {"field": "t2"}}},
     {"data": {"name": "starsB"}, "transform": [{"filter": "datum.act == 'D:Dynamic movements'"}], "mark": {"type": "point", "shape": "M0,-1L0.2245,-0.309L0.951,-0.309L0.363,0.118L0.588,0.809L0,0.382L-0.588,0.809L-0.363,0.118L-0.951,-0.309L-0.2245,-0.309Z", "filled": true, "color": "#7E2F8E", "opacity": 1, "size": 210}},
     {"data": {"name": "starsB"}, "transform": [{"filter": "datum.act == 'D:Sitting'"}], "mark": {"type": "point", "shape": "M0,-1L0.2245,-0.309L0.951,-0.309L0.363,0.118L0.588,0.809L0,0.382L-0.588,0.809L-0.363,0.118L-0.951,-0.309L-0.2245,-0.309Z", "filled": true, "color": "#77AC30", "opacity": 1, "size": 210}},
     {"data": {"name": "dateB"}, "mark": {"type": "text", "font": "Liberation Sans", "fontWeight": "bold", "fontSize": 19.5, "align": "right", "baseline": "middle", "color": "#000000"}, "encoding": {"text": {"field": "label"}}}
    ]
   },
   {
    "data": {"name": "dateB"},
    "mark": {"type": "point", "opacity": 0},
    "encoding": {
     "x": {"field": "t", "type": "quantitative", "scale": {"domain": [40.2, 108.1], "nice": false, "zero": false},
      "axis": {"orient": "top", "title": null, "labels": false, "grid": false, "tickSize": -7, "values": [45,60,75,90,105]}},
     "y": {"field": "v", "type": "quantitative", "scale": {"domain": [-1.01, 6.95], "nice": false, "zero": false},
      "axis": {"orient": "right", "title": null, "labels": false, "grid": false, "tickSize": -7, "values": [0,1,1.5,2,2.5,3,3.5,4,4.5,5,5.5,6,6.5]}}
    }
   }
  ]
 }
]
}
